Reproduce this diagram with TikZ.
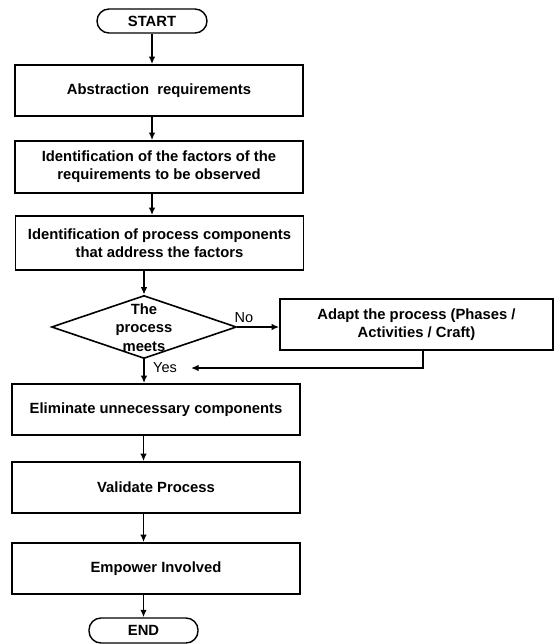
\documentclass[tikz,border=0pt]{standalone}
\usepackage{fontspec}
\setmainfont{Liberation Sans}
\usetikzlibrary{shapes.geometric,arrows.meta}

\begin{document}
\begin{tikzpicture}[x=1pt,y=-1pt,
    every node/.style={font=\fontsize{14.8}{18}\selectfont\bfseries},
    stepbox/.style={draw,line width=1.7pt,minimum width=288pt,minimum height=51pt,
      align=center,inner sep=0pt},
    term/.style={draw,line width=1.4pt,rounded corners=12pt,minimum width=110pt,
      minimum height=24pt,inner sep=0pt},
    choice/.style={draw,diamond,line width=1.6pt,minimum width=185pt,
      minimum height=63pt,inner sep=0pt},
    link/.style={line width=1.5pt,-{Latex[length=7.5pt,width=6.5pt]}},
    tag/.style={font=\fontsize{14.5}{16}\selectfont}]
    \useasboundingbox (0,0) rectangle (558,644);
    \node[term] (start) at (152,21) {START};
    \node[stepbox] (abstr) at (159,90.5) {Abstraction\ \ requirements};
    \node[stepbox,minimum height=52pt] (factors) at (159,167)
      {Identification of the factors of the\\requirements to be observed};
    \node[stepbox,minimum height=54pt] (comp) at (159.5,243)
      {Identification of process components\\that address the factors};
    \node[choice] (dec) at (144,327) {};
    \node[align=center,font=\fontsize{14.8}{18.5}\selectfont\bfseries] (decq) at (144,327.5)
      {The\\process\\meets};
    \node[stepbox,minimum width=273pt] (adapt) at (416.5,324.5)
      {Adapt the process (Phases /\\Activities / Craft)};
    \node[stepbox] (elim) at (156,409.5) {Eliminate unnecessary components};
    \node[stepbox] (valid) at (156,487.5) {Validate Process};
    \node[stepbox] (empower) at (156,568.5) {Empower Involved};
    \node[term,minimum width=109pt,minimum height=25pt] (fin) at (143.5,630.5) {END};
    \node[tag] (no) at (244,318) {No};
    \node[tag] (yes) at (165,368) {Yes};
    \coordinate (back) at (191,368);
    \draw[link] (start.south) -- (start.south |- abstr.north);
    \draw[link] (abstr.south -| start) -- (factors.north -| start);
    \draw[link] (factors.south -| start) -- (comp.north -| start);
    \draw[link] (comp.south -| dec) -- (dec.north);
    \draw[link] (dec.east) -- (dec.east -| adapt.west);
    \draw[link] (dec.south) -- (dec.south |- elim.north);
    \draw[link] ([xshift=6.5pt]adapt.south) |- (back);
    \draw[link] (elim.south -| fin) -- (valid.north -| fin);
    \draw[link] (valid.south -| fin) -- (empower.north -| fin);
    \draw[link] (empower.south -| fin) -- (fin.north);
  \end{tikzpicture}
\end{document}
